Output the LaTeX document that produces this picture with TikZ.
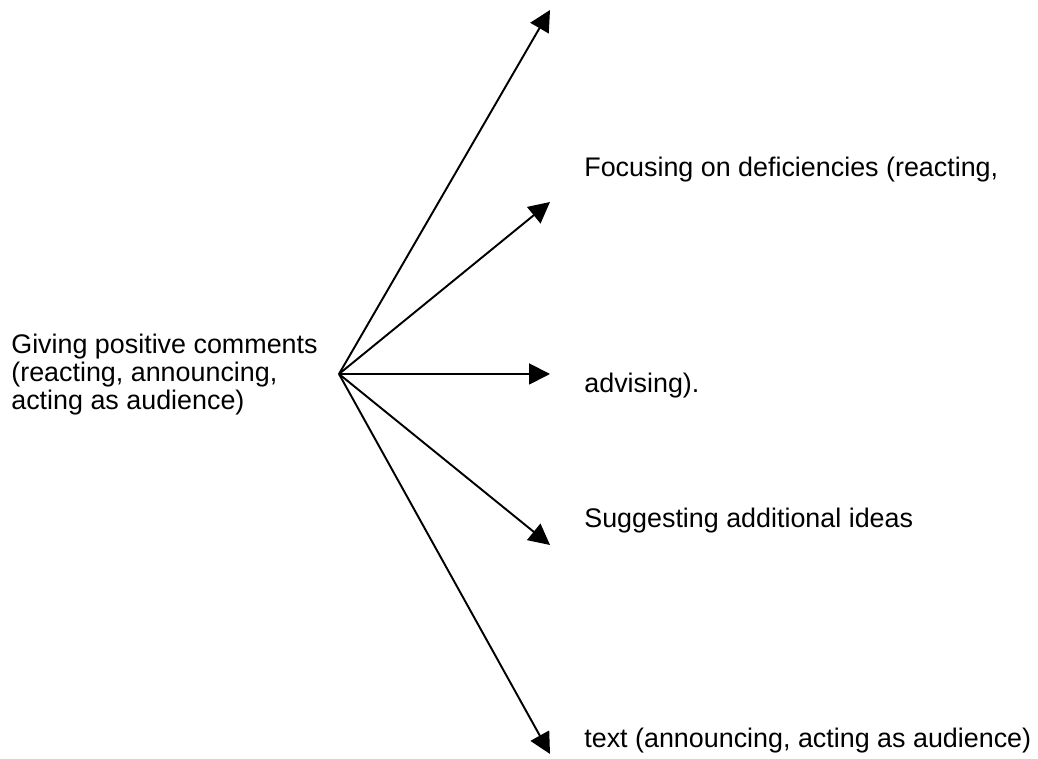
\documentclass[tikz,border=0pt]{standalone}
\usepackage{fontspec}
\setmainfont{Liberation Sans}
\usetikzlibrary{arrows.meta}

\begin{document}
\begin{tikzpicture}[
    x=0.02cm, y=-0.02cm,
    lbl/.style={anchor=base west, inner sep=0pt, font=\fontsize{15.3}{16}\selectfont},
    arrow/.style={-{Triangle[length=0.42cm, width=0.42cm]}, line width=1.1pt}
]
    \useasboundingbox (0,0) rectangle (1038,759);

    % Source
    \node[lbl, align=left] (src) at (11,410) {Giving positive comments\\(reacting, announcing,\\acting as audience)};
    \coordinate (hub) at (339,374);

    % Arrow ends
    \coordinate (t1) at (550,10);
    \coordinate (t2) at (550,202);
    \coordinate (t3) at (550,374);
    \coordinate (t4) at (550,545);
    \coordinate (t5) at (550,754);

    % Targets
    \node[lbl] (focus) at (584,177) {Focusing on deficiencies (reacting,};
    \node[lbl] (advise) at (584,393) {advising).};
    \node[lbl] (suggest) at (584,528) {Suggesting additional ideas};
    \node[lbl] (audience) at (584,747) {text (announcing, acting as audience)};

    % Connections
    \draw[arrow] (hub) -- (t1);
    \draw[arrow] (hub) -- (t2);
    \draw[arrow] (hub) -- (t3);
    \draw[arrow] (hub) -- (t4);
    \draw[arrow] (hub) -- (t5);
\end{tikzpicture}
\end{document}
